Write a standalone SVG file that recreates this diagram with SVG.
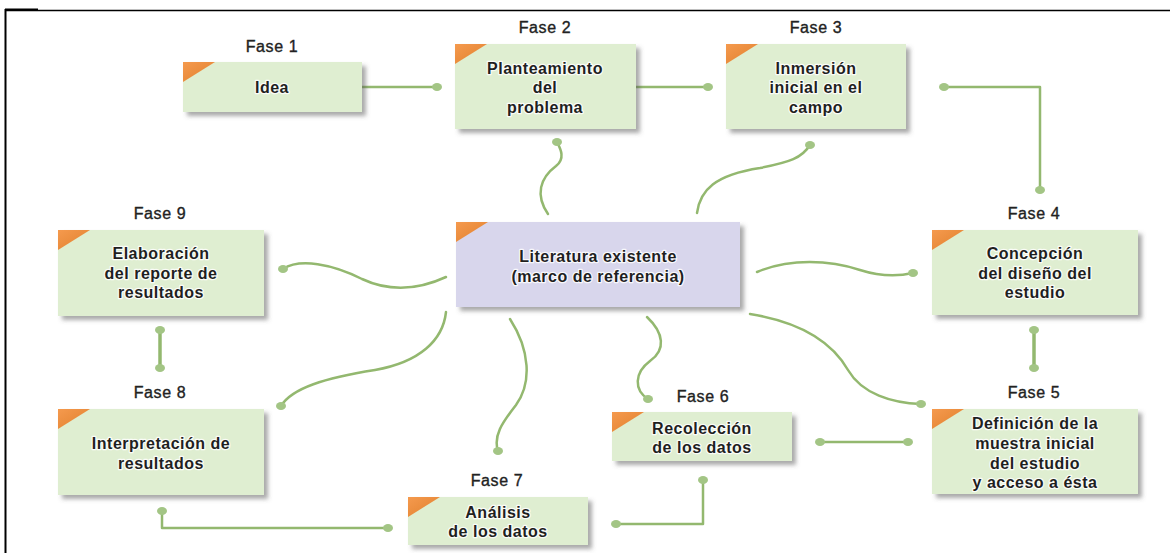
<svg xmlns="http://www.w3.org/2000/svg" width="1170" height="553" viewBox="0 0 1170 553">
<defs>
<filter id="sh" x="-10%" y="-20%" width="130%" height="150%">
<feDropShadow dx="4" dy="4" stdDeviation="2.2" flood-color="#555" flood-opacity="0.5"/>
</filter>
<linearGradient id="og" x1="0" y1="0" x2="1" y2="1">
<stop offset="0" stop-color="#f59a4e"/>
<stop offset="1" stop-color="#e07f2c"/>
</linearGradient>
</defs>
<style>
.box{fill:#dfeed1;filter:url(#sh)}
.lit{fill:#d8d6ec;filter:url(#sh)}
.tri{fill:url(#og)}
.t{font-family:"Liberation Sans",Arial,sans-serif;font-size:16px;font-weight:bold;fill:#1f1f1f;text-anchor:middle;letter-spacing:0.5px;stroke:#ffffff;stroke-width:2.5px;stroke-opacity:0.85;paint-order:stroke;stroke-linejoin:round}
.lab{font-family:"Liberation Sans",Arial,sans-serif;font-size:16px;fill:#222;text-anchor:middle;letter-spacing:0.6px;stroke:#222;stroke-width:0.35px}
.c{fill:none;stroke:#93b86f;stroke-width:2.5;stroke-linecap:round;stroke-linejoin:round}
.cv{fill:none;stroke:#93b86f;stroke-width:3.5}
.d{fill:#a3c585}
</style>
<rect width="1170" height="553" fill="#ffffff"/>
<g id="frame" stroke="#000" fill="none">
<line x1="5" y1="10.5" x2="1170" y2="10.5" stroke-width="1.5"/>
<line x1="5" y1="9.5" x2="38" y2="9.5" stroke-width="2"/>
<line x1="5.5" y1="9" x2="5.5" y2="553" stroke-width="2"/>
</g>
<g id="connectors">
<path class="c" d="M362,87 H437"/>
<path class="c" d="M636,87 H708"/>
<path class="c" d="M944,87 H1040 V190"/>
<path class="c" d="M548,214 C535,195 540,178 556,166 C566,158 560,148 557,142"/>
<path class="c" d="M697,213 C700,190 715,175 760,168 C790,162 802,158 810,145"/>
<path class="c" d="M446,277 C420,289 392,293 362,279 C332,264 300,258 283,269"/>
<path class="cv" d="M160,330 V368"/>
<path class="c" d="M446,312 C443,340 420,362 375,370 C325,378 292,388 281,406"/>
<path class="c" d="M510,319 C530,350 532,383 516,405 C502,423 493,436 498,451"/>
<path class="c" d="M162,511 V528 H388"/>
<path class="c" d="M616,524 H703 V480"/>
<path class="c" d="M647,317 C664,333 666,350 650,361 C634,373 634,390 648,399"/>
<path class="c" d="M820,442 H908"/>
<path class="c" d="M750,314 C800,322 832,342 848,370 C862,394 892,403 921,404"/>
<path class="c" d="M757,272 C790,258 830,260 860,270 C882,277 900,276 913,273"/>
<path class="cv" d="M1034,330 V368"/>
<g id="dots">
<ellipse class="d" cx="437" cy="87" rx="5" ry="4"/>
<ellipse class="d" cx="708" cy="87" rx="5" ry="4"/>
<ellipse class="d" cx="944" cy="87" rx="5" ry="4"/>
<ellipse class="d" cx="1040" cy="190" rx="5" ry="4"/>
<ellipse class="d" cx="557" cy="142" rx="5" ry="4"/>
<ellipse class="d" cx="810" cy="145" rx="5" ry="4"/>
<ellipse class="d" cx="283" cy="269" rx="5" ry="4"/>
<ellipse class="d" cx="160" cy="330" rx="5" ry="4"/>
<ellipse class="d" cx="160" cy="368" rx="5" ry="4"/>
<ellipse class="d" cx="281" cy="406" rx="5" ry="4"/>
<ellipse class="d" cx="498" cy="451" rx="5" ry="4"/>
<ellipse class="d" cx="162" cy="511" rx="5" ry="4"/>
<ellipse class="d" cx="388" cy="528" rx="5" ry="4"/>
<ellipse class="d" cx="616" cy="524" rx="5" ry="4"/>
<ellipse class="d" cx="703" cy="480" rx="5" ry="4"/>
<ellipse class="d" cx="648" cy="399" rx="5" ry="4"/>
<ellipse class="d" cx="820" cy="442" rx="5" ry="4"/>
<ellipse class="d" cx="908" cy="442" rx="5" ry="4"/>
<ellipse class="d" cx="921" cy="404" rx="5" ry="4"/>
<ellipse class="d" cx="913" cy="273" rx="5" ry="4"/>
<ellipse class="d" cx="1034" cy="330" rx="5" ry="4"/>
<ellipse class="d" cx="1034" cy="368" rx="5" ry="4"/>
</g>
</g>
<g id="fase1">
<text class="lab" x="272" y="52">Fase 1</text>
<rect class="box" x="183" y="62" width="179" height="50"/>
<polygon class="tri" points="183,62 215,62 183,82"/>
<text class="t" x="272" y="93">Idea</text>
</g>
<g id="fase2">
<text class="lab" x="545" y="33">Fase 2</text>
<rect class="box" x="455" y="44" width="181" height="85"/>
<polygon class="tri" points="455,44 487,44 455,64"/>
<text class="t" x="545" y="74">Planteamiento</text>
<text class="t" x="545" y="93">del</text>
<text class="t" x="545" y="113">problema</text>
</g>
<g id="fase3">
<text class="lab" x="816" y="33">Fase 3</text>
<rect class="box" x="726" y="44" width="180" height="85"/>
<polygon class="tri" points="726,44 758,44 726,64"/>
<text class="t" x="816" y="74">Inmersión</text>
<text class="t" x="816" y="93">inicial en el</text>
<text class="t" x="816" y="113">campo</text>
</g>
<g id="literatura">
<rect class="lit" x="456" y="222" width="284" height="85"/>
<polygon class="tri" points="456,222 488,222 456,242"/>
<text class="t" x="598" y="262">Literatura existente</text>
<text class="t" x="598" y="282">(marco de referencia)</text>
</g>
<g id="fase9">
<text class="lab" x="160" y="219">Fase 9</text>
<rect class="box" x="58" y="230" width="206" height="86"/>
<polygon class="tri" points="58,230 90,230 58,250"/>
<text class="t" x="161" y="259">Elaboración</text>
<text class="t" x="161" y="279">del reporte de</text>
<text class="t" x="161" y="298">resultados</text>
</g>
<g id="fase4">
<text class="lab" x="1034" y="219">Fase 4</text>
<rect class="box" x="932" y="230" width="206" height="85"/>
<polygon class="tri" points="932,230 964,230 932,250"/>
<text class="t" x="1035" y="259">Concepción</text>
<text class="t" x="1035" y="279">del diseño del</text>
<text class="t" x="1035" y="298">estudio</text>
</g>
<g id="fase8">
<text class="lab" x="160" y="398">Fase 8</text>
<rect class="box" x="58" y="409" width="206" height="86"/>
<polygon class="tri" points="58,409 90,409 58,429"/>
<text class="t" x="161" y="449">Interpretación de</text>
<text class="t" x="161" y="469">resultados</text>
</g>
<g id="fase5">
<text class="lab" x="1034" y="398">Fase 5</text>
<rect class="box" x="932" y="409" width="206" height="85"/>
<polygon class="tri" points="932,409 964,409 932,429"/>
<text class="t" x="1035" y="429">Definición de la</text>
<text class="t" x="1035" y="449">muestra inicial</text>
<text class="t" x="1035" y="469">del estudio</text>
<text class="t" x="1035" y="488">y acceso a ésta</text>
</g>
<g id="fase6">
<text class="lab" x="703" y="402">Fase 6</text>
<rect class="box" x="612" y="412" width="180" height="49"/>
<polygon class="tri" points="612,412 644,412 612,432"/>
<text class="t" x="702" y="434">Recolección</text>
<text class="t" x="702" y="453">de los datos</text>
</g>
<g id="fase7">
<text class="lab" x="497" y="486">Fase 7</text>
<rect class="box" x="408" y="497" width="180" height="48"/>
<polygon class="tri" points="408,497 440,497 408,517"/>
<text class="t" x="498" y="518">Análisis</text>
<text class="t" x="498" y="537">de los datos</text>
</g>
</svg>
